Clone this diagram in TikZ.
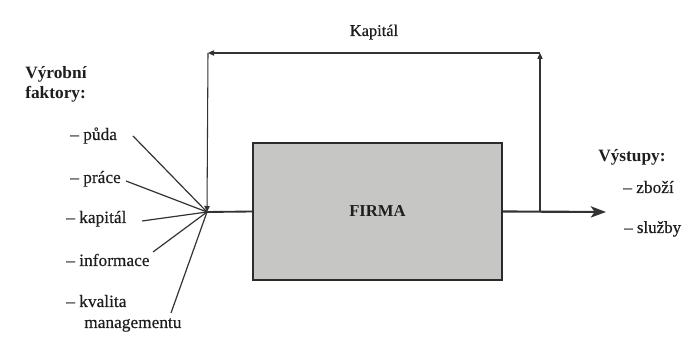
\documentclass[tikz,border=0pt]{standalone}
\usepackage{fontspec}
\setmainfont{Liberation Serif}
% slightly heavier print face for the labels
\newfontfamily\printface[FakeBold=0.35]{Liberation Serif}
\usetikzlibrary{arrows.meta}
\definecolor{ink}{HTML}{1E1E1E}
\definecolor{wire}{HTML}{333333}
\definecolor{boxfill}{HTML}{C6C6C4}
\tikzset{
  lbl/.style={inner sep=0pt, text=ink, font=\printface\fontsize{13}{15}\selectfont},
  head/.style={inner sep=0pt, text=ink, font=\fontsize{13}{15}\selectfont\bfseries},
  feed/.style={draw=wire, line width=0.9pt},
  loop/.style={draw=wire, line width=0.8pt},
  tip/.style={-{Triangle[length=4.5pt,width=4pt]}},
  firmabox/.style={draw=wire!85!black, line width=1.4pt, fill=boxfill,
    minimum width=186.75pt, minimum height=102.75pt, inner sep=0pt,
    text=ink, font=\fontsize{12.5}{15}\selectfont\bfseries},
}
\begin{document}
\begin{tikzpicture}[x=0.75pt,y=-0.75pt]
\useasboundingbox (0,0) rectangle (683,338);
\fill[white] (0,0) rectangle (683,338);

% the firm
\node[firmabox] (firma) at (377.5,211.5) {FIRMA};

% junction of inputs and the capital loop
\coordinate (J) at (207,212);
\coordinate (TL) at (208,53);
\coordinate (TR) at (540,53);
\coordinate (BR) at (540,212);
\coordinate (out) at (606,212);

% input labels
\node[head, anchor=base west] (vf1) at (25,79) {Výrobní};
\node[head, anchor=base west] (vf2) at (25,99) {faktory:};
\node[lbl, anchor=base west] (pu) at (70,140) {– půda};
\node[lbl, anchor=base west] (pr) at (70,183) {– práce};
\node[lbl, anchor=base west] (ka) at (66,223) {– kapitál};
\node[lbl, anchor=base west] (in) at (66,266) {– informace};
\node[lbl, anchor=base west] (kv) at (66,307) {– kvalita};
\node[lbl, anchor=base west] (ma) at (84,328) {managementu};

% output labels
\node[head, anchor=base west] (vy) at (598,162) {Výstupy:};
\node[lbl, anchor=base west] (zb) at (623,193) {– zboží};
\node[lbl, anchor=base west, font=\printface\fontsize{12.7}{15}\selectfont] (sl) at (624,233) {– služby};

% loop label
\node[lbl, anchor=base, font=\printface\fontsize{12.3}{15}\selectfont] (kap) at (374,36) {Kapitál};

% line ends beside each input
\coordinate (pu-e) at (133,136);
\coordinate (pr-e) at (126,181);
\coordinate (ka-e) at (142,221);
\coordinate (in-e) at (153,252);
\coordinate (kv-e) at (171,313);

\foreach \s in {pu-e,pr-e,ka-e,in-e,kv-e}
  \draw[feed] (\s) -- (J);

% main flow through the firm
\draw[wire, line width=1.4pt] (J) -- (firma.west);
\draw[wire, line width=1.6pt, -{Stealth[length=11.5pt,width=8.5pt,inset=3pt]}] (firma.east) -- (out);

% capital fed back to the inputs
\draw[loop, tip] (BR) -- (TR);
\draw[loop, tip] (TR) -- (TL);
\draw[loop, tip] (TL) -- (J);
\end{tikzpicture}
\end{document}
